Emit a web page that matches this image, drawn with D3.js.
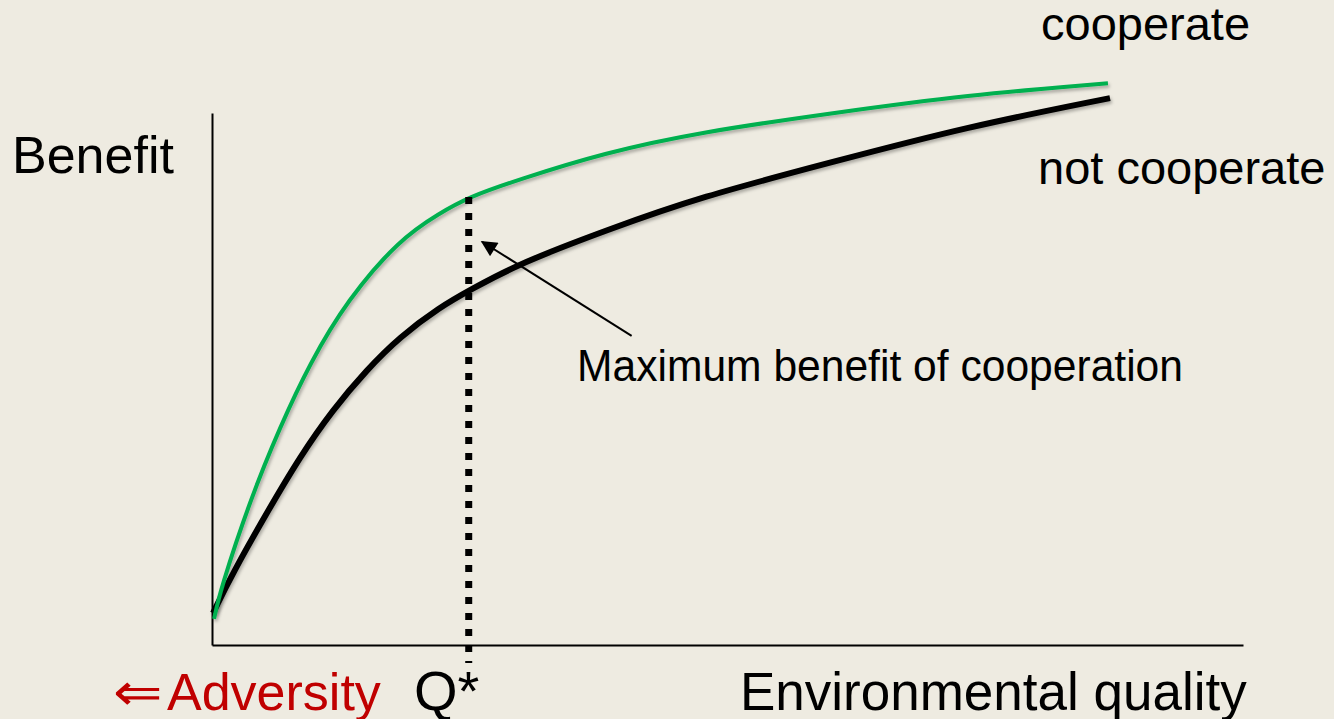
<!DOCTYPE html>
<html>
<head>
<meta charset="utf-8">
<script src="https://cdn.jsdelivr.net/npm/d3@7"></script>
<style>
  html, body { margin: 0; padding: 0; background: #EEEBE1; }
  svg { display: block; }
  text { font-family: "Liberation Sans", Arial, sans-serif; fill: #000; }
</style>
</head>
<body>
<svg id="chart" width="1334" height="719"></svg>
<script>
// Environmental quality (x) vs. benefit (y), arbitrary units
const qualityCoop = [0.02, 0.08, 0.37, 0.66, 0.95, 1.31, 1.82, 2.21, 2.49, 2.96, 3.80, 4.73, 6.02, 7.32, 8.69];
const benefitCoop = [0.49, 1.03, 2.73, 4.10, 5.30, 6.48, 7.63, 8.12, 8.42, 8.74, 9.25, 9.64, 10.00, 10.34, 10.56];

const qualityAlone = [0.01, 0.20, 0.53, 0.85, 1.17, 1.50, 1.82, 2.21, 2.50, 2.99, 3.83, 4.73, 6.02, 7.32, 8.71];
const benefitAlone = [0.60, 1.35, 2.48, 3.53, 4.42, 5.17, 5.79, 6.35, 6.67, 7.18, 7.80, 8.42, 9.08, 9.74, 10.28];

// Q*: quality where cooperation pays off most
const qStar = 2.49;
const qStarBenefit = 8.42;
const qStarFloor = -0.34;

// annotation arrow (tail -> head) in data units
const arrowTail = [4.07, 5.81];
const arrowHead = [2.62, 7.58];

const labels = {
  yTitle: "Benefit",
  xTitle: "Environmental quality",
  coop: "cooperate",
  alone: "not cooperate",
  note: "Maximum benefit of cooperation",
  qStar: "Q*",
  leftArrow: "\u21D0",
  adversity: "Adversity"
};

const svg = d3.select("#chart");

const x = d3.scaleLinear().domain([0, 10]).range([212, 1243]);
const y = d3.scaleLinear().domain([0, 10]).range([645, 113]);

const defs = svg.append("defs");
const shadow = defs.append("filter").attr("id", "shadow")
  .attr("x", "-10%").attr("y", "-10%").attr("width", "120%").attr("height", "130%");
shadow.append("feDropShadow")
  .attr("dx", 1.5).attr("dy", 2.5).attr("stdDeviation", 1.5)
  .attr("flood-color", "#000").attr("flood-opacity", 0.28);

defs.append("marker").attr("id", "head")
  .attr("viewBox", "0 0 10 10").attr("refX", 9).attr("refY", 5)
  .attr("markerWidth", 8.5).attr("markerHeight", 8)
  .attr("markerUnits", "strokeWidth")
  .attr("orient", "auto")
  .append("path").attr("d", "M0,0 L10,5 L0,10 Z").attr("fill", "#000");

// axes without ticks
const axisStyle = g => {
  g.select(".domain").attr("stroke", "#000").attr("stroke-width", 2);
  g.selectAll(".tick").remove();
};
svg.append("g")
  .attr("transform", `translate(0,${y(0)})`)
  .call(d3.axisBottom(x).tickValues([]).tickSizeOuter(0))
  .call(axisStyle);
svg.append("g")
  .attr("transform", `translate(${x(0)},0)`)
  .call(d3.axisLeft(y).tickValues([]).tickSizeOuter(0))
  .call(axisStyle);

const line = d3.line()
  .x(d => x(d[0]))
  .y(d => y(d[1]))
  .curve(d3.curveBasis);

const alonePts = d3.zip(qualityAlone, benefitAlone);
const coopPts = d3.zip(qualityCoop, benefitCoop);

svg.append("path")
  .datum(alonePts)
  .attr("d", line)
  .attr("fill", "none")
  .attr("stroke", "#000")
  .attr("stroke-width", 6)
  .attr("filter", "url(#shadow)");

svg.append("path")
  .datum(coopPts)
  .attr("d", line)
  .attr("fill", "none")
  .attr("stroke", "#00B050")
  .attr("stroke-width", 4)
  .attr("filter", "url(#shadow)");

// dotted drop line at Q*
svg.append("line")
  .attr("x1", x(qStar)).attr("x2", x(qStar))
  .attr("y1", y(qStarBenefit)).attr("y2", y(qStarFloor))
  .attr("stroke", "#000")
  .attr("stroke-width", 7)
  .attr("stroke-dasharray", "7 9");

// annotation arrow
svg.append("line")
  .attr("x1", x(arrowTail[0])).attr("y1", y(arrowTail[1]))
  .attr("x2", x(arrowHead[0])).attr("y2", y(arrowHead[1]))
  .attr("stroke", "#000")
  .attr("stroke-width", 2)
  .attr("marker-end", "url(#head)");

// text
svg.append("text").attr("x", 12).attr("y", 173)
  .attr("font-size", 52).text(labels.yTitle);

svg.append("text").attr("x", 1041).attr("y", 40)
  .attr("font-size", 47).text(labels.coop);

svg.append("text").attr("x", 1038).attr("y", 184)
  .attr("font-size", 47).text(labels.alone);

svg.append("text").attr("x", 577).attr("y", 381)
  .attr("font-size", 44)
  .attr("textLength", 606).attr("lengthAdjust", "spacingAndGlyphs")
  .text(labels.note);

const adv = svg.append("text").attr("y", 710)
  .attr("font-size", 52).style("fill", "#C00000");
adv.append("tspan").attr("x", 113)
  .attr("textLength", 50).attr("lengthAdjust", "spacingAndGlyphs")
  .text(labels.leftArrow);
adv.append("tspan").attr("x", 167).text(labels.adversity);

svg.append("text").attr("x", 414).attr("y", 710)
  .attr("font-size", 56).text(labels.qStar);

svg.append("text").attr("x", 740).attr("y", 710)
  .attr("font-size", 53).text(labels.xTitle);
</script>
</body>
</html>
